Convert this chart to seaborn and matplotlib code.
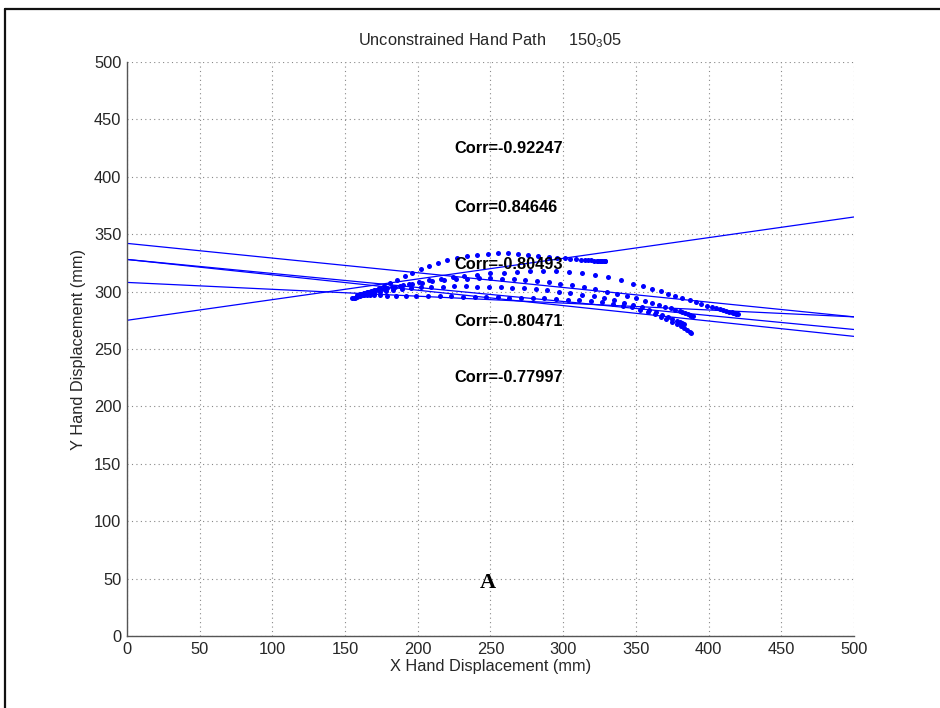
import matplotlib
matplotlib.use("Agg")
import matplotlib.pyplot as plt
from matplotlib.lines import Line2D
import numpy as np
import pandas as pd
import seaborn as sns

# ---- hand path samples (mm), one list pair per movement ----
path1_x = [155, 156, 157, 158, 160, 162, 164, 167, 170, 173, 177, 181, 186, 191, 196, 202,
           208, 214, 220, 227, 234, 241, 248, 255, 262, 269, 276, 283, 290, 296, 301, 305,
           309, 312, 315, 317, 319, 321, 323, 324, 325, 326, 327, 328, 328.5, 329]
path1_y = [294, 294.3, 294.8, 295.3, 296, 297, 298, 299.5, 301, 303, 305, 307.5, 310.5,
           313.5, 316.5, 319.5, 322.5, 325, 327.5, 329.5, 331, 332.3, 333, 333.3, 333.2,
           332.8, 332.2, 331.4, 330.5, 329.6, 329, 328.5, 328.1, 327.8, 327.5, 327.3, 327.1,
           327, 326.9, 326.8, 326.7, 326.7, 326.6, 326.6, 326.6, 326.6]

path2_x = [158, 159, 161, 163, 166, 169, 173, 177, 182, 188, 194, 201, 208, 216, 224, 232,
           241, 250, 259, 268, 277, 286, 295, 304, 313, 322, 331, 340, 348, 355, 361, 367,
           372, 377, 382, 387, 391, 395, 399, 402, 405, 408, 410, 412, 414, 416, 417, 418,
           419, 420]
path2_y = [297, 297.3, 297.8, 298.5, 299.3, 300.2, 301.3, 302.5, 303.8, 305.3, 306.8, 308.3,
           309.8, 311.2, 312.5, 313.7, 314.8, 315.8, 316.6, 317.3, 317.8, 318, 317.9, 317.4,
           316.5, 314.8, 312.6, 310, 307, 304.5, 302.3, 300.2, 298.2, 296.3, 294.5, 292.5,
           290.8, 289.2, 287.8, 286.6, 285.5, 284.5, 283.7, 283, 282.3, 281.8, 281.3, 281,
           280.8, 280.6]

path3_x = [160, 161, 163, 165, 168, 171, 175, 179, 184, 190, 196, 203, 210, 218, 226, 234,
           242, 250, 258, 266, 274, 282, 290, 298, 306, 314, 322, 330, 337, 344, 350, 356,
           361, 366, 370, 374, 377, 380, 382, 384, 386, 387, 388, 389]
path3_y = [298, 298.3, 298.8, 299.4, 300.2, 301, 302, 303, 304.2, 305.4, 306.6, 307.8, 308.9,
           309.9, 310.7, 311.2, 311.5, 311.5, 311.2, 310.7, 310, 309.1, 308, 306.8, 305.4,
           303.8, 302, 300, 298.1, 296.1, 294.2, 292.2, 290.4, 288.6, 287, 285.5, 284.2, 283,
           282, 281, 280.2, 279.5, 279, 278.5]

path4_x = [162, 163, 165, 167, 170, 174, 178, 183, 189, 195, 202, 209, 217, 225, 233, 241,
           249, 257, 265, 273, 281, 289, 297, 305, 313, 321, 328, 335, 342, 348, 354, 359,
           364, 368, 372, 375, 378, 380, 382, 383]
path4_y = [297, 297.2, 297.6, 298.1, 298.8, 299.6, 300.5, 301.4, 302.3, 303, 303.6, 304,
           304.3, 304.5, 304.5, 304.4, 304.2, 303.9, 303.4, 302.8, 302, 301.1, 300, 298.8,
           297.4, 295.8, 294.2, 292.4, 290.4, 288.4, 286.2, 284, 281.8, 279.8, 277.8, 276.2,
           274.6, 273.4, 272.3, 271.5]

path5_x = [165, 167, 170, 174, 179, 185, 192, 199, 207, 215, 223, 231, 239, 247, 255, 263,
           271, 279, 287, 295, 303, 311, 319, 327, 334, 341, 347, 353, 358, 363, 367, 371,
           375, 378, 381, 383, 385, 387, 388]
path5_y = [297, 296.9, 296.8, 296.7, 296.6, 296.5, 296.4, 296.3, 296.2, 296, 295.8, 295.6,
           295.4, 295.2, 295, 294.8, 294.6, 294.3, 294, 293.6, 293.1, 292.5, 291.7, 290.6,
           289.3, 287.8, 286.2, 284.3, 282.3, 280.2, 278.2, 276, 273.8, 271.8, 269.8, 268.2,
           266.6, 265.2, 264]

paths_x = [path1_x, path2_x, path3_x, path4_x, path5_x]
paths_y = [path1_y, path2_y, path3_y, path4_y, path5_y]

# ---- fitted lines: y at x = 0 and x = 500 ----
fit_x = [0, 500]
fit_y0 = [342, 328, 328, 308, 275]
fit_y1 = [278, 267, 261, 278, 365]

# ---- correlation labels ----
corr_values = ["-0.92247", "0.84646", "-0.80493", "-0.80471", "-0.77997"]
corr_label_y = [425, 373, 324, 274, 225]
corr_label_x = 225

ticks = list(range(0, 501, 50))

sns.set_style("white")
plt.rcParams["font.family"] = ["Liberation Sans", "DejaVu Sans"]
plt.rcParams["mathtext.fontset"] = "custom"
plt.rcParams["mathtext.rm"] = "Liberation Sans"
plt.rcParams["mathtext.it"] = "Liberation Sans:italic"
plt.rcParams["mathtext.bf"] = "Liberation Sans:bold"

fig = plt.figure(figsize=(9.4, 7.08), dpi=100)
W, H = 940, 708
ax = fig.add_axes([127 / W, 1 - 636 / H, 727 / W, 574 / H])

blue = "#0000ff"

# sampled hand positions
pts = pd.DataFrame({
    "x": np.concatenate(paths_x),
    "y": np.concatenate(paths_y),
    "trial": np.concatenate([[i] * len(px) for i, px in enumerate(paths_x)]),
})
sns.scatterplot(data=pts, x="x", y="y", color=blue, marker="o", s=13,
                linewidth=0, ax=ax, legend=False, zorder=3)

# least-squares fit lines
fits = pd.DataFrame({
    "x": fit_x * len(fit_y0),
    "y": [v for pair in zip(fit_y0, fit_y1) for v in pair],
    "trial": np.repeat(np.arange(len(fit_y0)), 2),
})
sns.lineplot(data=fits, x="x", y="y", units="trial", estimator=None,
             color=blue, linewidth=0.9, ax=ax, legend=False, zorder=2)

for val, yy in zip(corr_values, corr_label_y):
    ax.text(corr_label_x, yy, f"Corr={val}", fontsize=11.8, fontweight="bold",
            ha="left", va="center", color="black", zorder=4)

ax.text(248, 46, "A", fontsize=16, fontweight="bold", family="Liberation Serif",
        ha="center", va="center", color="black")

ax.set_xlim(0, 500)
ax.set_ylim(0, 500)
ax.set_xticks(ticks)
ax.set_yticks(ticks)
ax.tick_params(direction="in", length=5, width=0.8, color="#333333",
               labelsize=11.8, pad=4)
ax.grid(True, linestyle=(0, (1, 3)), color="#888888", linewidth=0.8)
for side in ("top", "right"):
    ax.spines[side].set_visible(False)
for side in ("left", "bottom"):
    ax.spines[side].set_color("#555555")
    ax.spines[side].set_linewidth(1.0)

ax.set_xlabel("X Hand Displacement (mm)", fontsize=11.8, labelpad=2)
ax.set_ylabel("Y Hand Displacement (mm)", fontsize=11.8, labelpad=6)
ax.set_title("Unconstrained Hand Path     150$_3$05", fontsize=11.8, pad=12)

# outer frame
x0, y0 = 5 / W, 1 - 9 / H
fig.add_artist(Line2D([x0, 1.0], [y0, y0], transform=fig.transFigure,
                      color="#111111", linewidth=1.6))
fig.add_artist(Line2D([x0, x0], [y0, 0.0], transform=fig.transFigure,
                      color="#111111", linewidth=1.6))

fig.savefig("out.png", dpi=100, facecolor="white")
